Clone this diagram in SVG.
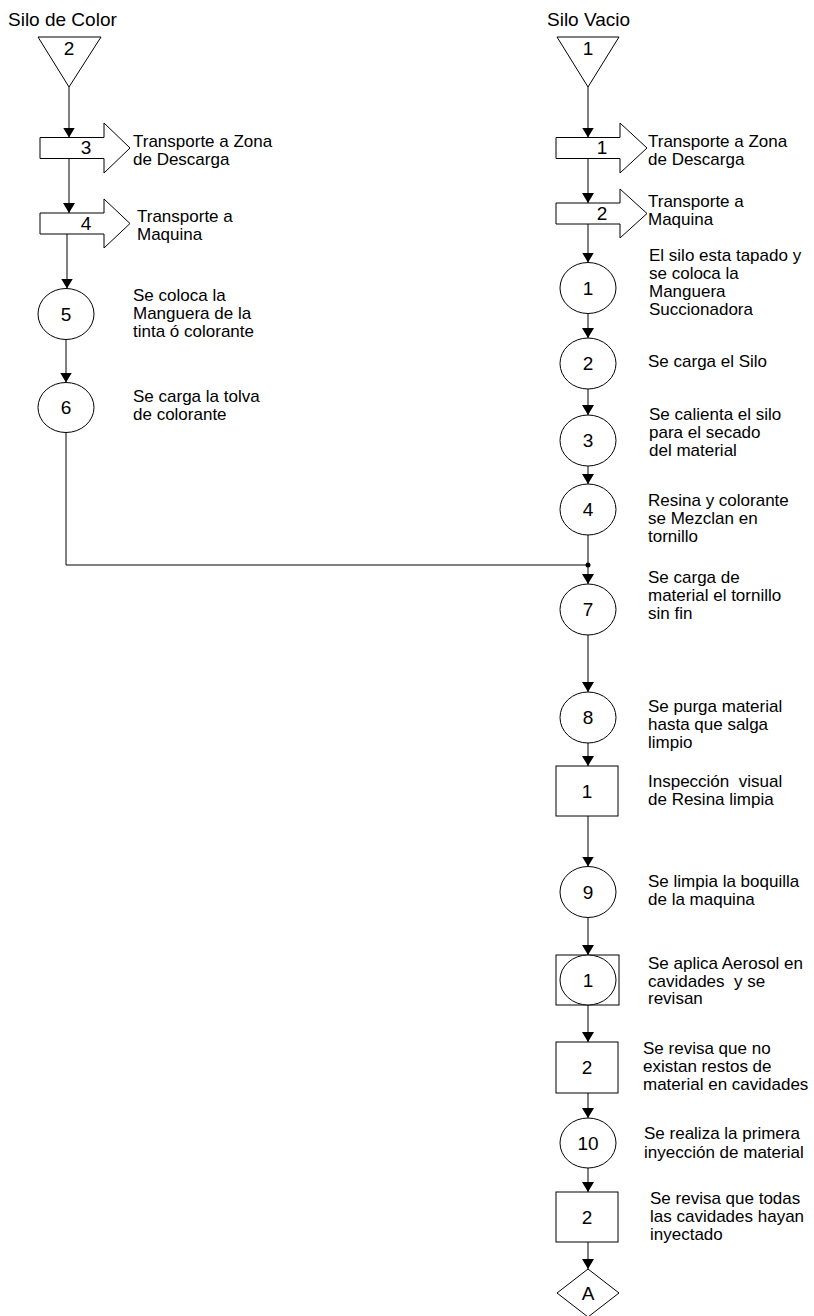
<svg xmlns="http://www.w3.org/2000/svg" width="814" height="1316" viewBox="0 0 814 1316">
<style>
  text { font-family: "Liberation Sans", Arial, sans-serif; fill: #000; }
  .title { font-size: 19px; }
  .desc { font-size: 17px; }
  .num { font-size: 19px; text-anchor: middle; }
  .shape { fill: #fff; stroke: #000; stroke-width: 1; }
  .conn { fill: none; stroke: #000; stroke-width: 1; }
</style>
<defs>
  <marker id="arr" markerUnits="userSpaceOnUse" markerWidth="10" markerHeight="12" refX="10" refY="6" orient="auto">
    <path d="M0,0 L10,6 L0,12 z" fill="#000"/>
  </marker>
</defs>
<rect x="0" y="0" width="814" height="1316" fill="#fff"/>

<g id="connectors">
  <line class="conn" x1="69" y1="87" x2="69" y2="137.5" marker-end="url(#arr)"/>
  <line class="conn" x1="69" y1="158.5" x2="69" y2="213" marker-end="url(#arr)"/>
  <line class="conn" x1="67" y1="234" x2="67" y2="288.5" marker-end="url(#arr)"/>
  <line class="conn" x1="66" y1="339.5" x2="66" y2="382.5" marker-end="url(#arr)"/>
  <polyline class="conn" points="66,432.5 66,565 588,565"/>

  <line class="conn" x1="588" y1="87" x2="588" y2="137.5" marker-end="url(#arr)"/>
  <line class="conn" x1="588" y1="158.5" x2="588" y2="203" marker-end="url(#arr)"/>
  <line class="conn" x1="588" y1="224" x2="588" y2="262.5" marker-end="url(#arr)"/>
  <line class="conn" x1="588" y1="313.5" x2="588" y2="338" marker-end="url(#arr)"/>
  <line class="conn" x1="588" y1="389" x2="588" y2="415" marker-end="url(#arr)"/>
  <line class="conn" x1="588" y1="466" x2="588" y2="484" marker-end="url(#arr)"/>
  <line class="conn" x1="588" y1="535" x2="588" y2="584" marker-end="url(#arr)"/>
  <circle cx="588" cy="565" r="2.5" fill="#000"/>
  <line class="conn" x1="588" y1="635" x2="588" y2="692" marker-end="url(#arr)"/>
  <line class="conn" x1="588" y1="743" x2="588" y2="766" marker-end="url(#arr)"/>
  <line class="conn" x1="588" y1="816" x2="588" y2="866.5" marker-end="url(#arr)"/>
  <line class="conn" x1="588" y1="917.5" x2="588" y2="955" marker-end="url(#arr)"/>
  <line class="conn" x1="588" y1="1005" x2="588" y2="1042" marker-end="url(#arr)"/>
  <line class="conn" x1="588" y1="1093" x2="588" y2="1118" marker-end="url(#arr)"/>
  <line class="conn" x1="588" y1="1168" x2="588" y2="1192" marker-end="url(#arr)"/>
  <line class="conn" x1="588" y1="1242" x2="588" y2="1269" marker-end="url(#arr)"/>
</g>

<!-- Left column -->
<g id="silo-color">
  <text class="title" x="8" y="26">Silo de Color</text>
  <polygon class="shape" points="38,37 101,37 69,87"/>
  <text class="num" x="69" y="55">2</text>
</g>
<g id="transport-3">
  <polygon class="shape" points="40,137.5 104,137.5 104,123 130,148 104,173 104,158.5 40,158.5"/>
  <text class="num" x="86" y="154">3</text>
  <text class="desc" x="133" y="147">Transporte a Zona</text>
  <text class="desc" x="133" y="165">de Descarga</text>
</g>
<g id="transport-4">
  <polygon class="shape" points="40,213 104,213 104,199 130,223.5 104,248 104,234 40,234"/>
  <text class="num" x="86" y="230">4</text>
  <text class="desc" x="137" y="222">Transporte a</text>
  <text class="desc" x="137" y="240">Maquina</text>
</g>
<g id="op-5">
  <ellipse class="shape" cx="66" cy="314" rx="28" ry="25.5"/>
  <text class="num" x="66" y="321">5</text>
  <text class="desc" x="133" y="301">Se coloca la</text>
  <text class="desc" x="133" y="319">Manguera de la</text>
  <text class="desc" x="133" y="337">tinta ó colorante</text>
</g>
<g id="op-6">
  <ellipse class="shape" cx="66" cy="407.5" rx="28" ry="25"/>
  <text class="num" x="66" y="414">6</text>
  <text class="desc" x="133" y="402">Se carga la tolva</text>
  <text class="desc" x="133" y="420">de colorante</text>
</g>

<!-- Right column -->
<g id="silo-vacio">
  <text class="title" x="547" y="26">Silo Vacio</text>
  <polygon class="shape" points="557,37 619,37 588,87"/>
  <text class="num" x="588" y="55">1</text>
</g>
<g id="transport-1">
  <polygon class="shape" points="556,137.5 620,137.5 620,123 647,148 620,173 620,158.5 556,158.5"/>
  <text class="num" x="602" y="154">1</text>
  <text class="desc" x="648" y="147">Transporte a Zona</text>
  <text class="desc" x="648" y="165">de Descarga</text>
</g>
<g id="transport-2">
  <polygon class="shape" points="556,203 620,203 620,189 647,213.5 620,238 620,224 556,224"/>
  <text class="num" x="602" y="220">2</text>
  <text class="desc" x="648" y="207">Transporte a</text>
  <text class="desc" x="648" y="225">Maquina</text>
</g>
<g id="op-1">
  <ellipse class="shape" cx="588" cy="288" rx="28" ry="25.5"/>
  <text class="num" x="588" y="295">1</text>
  <text class="desc" x="649" y="261">El silo esta tapado y</text>
  <text class="desc" x="649" y="279">se coloca la</text>
  <text class="desc" x="649" y="297">Manguera</text>
  <text class="desc" x="649" y="315">Succionadora</text>
</g>
<g id="op-2">
  <ellipse class="shape" cx="588" cy="363.5" rx="28" ry="25.5"/>
  <text class="num" x="588" y="370">2</text>
  <text class="desc" x="648" y="367">Se carga el Silo</text>
</g>
<g id="op-3">
  <ellipse class="shape" cx="588" cy="440.5" rx="28" ry="25.5"/>
  <text class="num" x="588" y="447">3</text>
  <text class="desc" x="649" y="420">Se calienta el silo</text>
  <text class="desc" x="649" y="438">para el secado</text>
  <text class="desc" x="649" y="456">del material</text>
</g>
<g id="op-4">
  <ellipse class="shape" cx="588" cy="509.5" rx="28" ry="25.5"/>
  <text class="num" x="588" y="516">4</text>
  <text class="desc" x="648" y="506">Resina y colorante</text>
  <text class="desc" x="648" y="524">se Mezclan en</text>
  <text class="desc" x="648" y="542">tornillo</text>
</g>
<g id="op-7">
  <ellipse class="shape" cx="588" cy="609.5" rx="28" ry="25.5"/>
  <text class="num" x="588" y="616">7</text>
  <text class="desc" x="648" y="583">Se carga de</text>
  <text class="desc" x="648" y="601">material el tornillo</text>
  <text class="desc" x="648" y="619">sin fin</text>
</g>
<g id="op-8">
  <ellipse class="shape" cx="588" cy="717.5" rx="28" ry="25.5"/>
  <text class="num" x="588" y="724">8</text>
  <text class="desc" x="648" y="712">Se purga material</text>
  <text class="desc" x="648" y="730">hasta que salga</text>
  <text class="desc" x="648" y="748">limpio</text>
</g>
<g id="insp-1">
  <rect class="shape" x="556" y="766" width="62" height="50"/>
  <text class="num" x="587" y="798">1</text>
  <text class="desc" x="648" y="787" xml:space="preserve">Inspección  visual</text>
  <text class="desc" x="648" y="805">de Resina limpia</text>
</g>
<g id="op-9">
  <ellipse class="shape" cx="588" cy="892" rx="28" ry="25.5"/>
  <text class="num" x="588" y="899">9</text>
  <text class="desc" x="648" y="887">Se limpia la boquilla</text>
  <text class="desc" x="648" y="905">de la maquina</text>
</g>
<g id="combined-1">
  <rect class="shape" x="556" y="955" width="63" height="50"/>
  <ellipse class="shape" cx="588" cy="980" rx="28" ry="25"/>
  <text class="num" x="588" y="987">1</text>
  <text class="desc" x="648" y="969">Se aplica Aerosol en</text>
  <text class="desc" x="648" y="987" xml:space="preserve">cavidades  y se</text>
  <text class="desc" x="648" y="1004">revisan</text>
</g>
<g id="insp-2a">
  <rect class="shape" x="556" y="1042" width="62" height="51"/>
  <text class="num" x="587" y="1074">2</text>
  <text class="desc" x="643" y="1054">Se revisa que no</text>
  <text class="desc" x="643" y="1072">existan restos de</text>
  <text class="desc" x="643" y="1090">material en cavidades</text>
</g>
<g id="op-10">
  <ellipse class="shape" cx="588" cy="1143" rx="28" ry="25"/>
  <text class="num" x="588" y="1150">10</text>
  <text class="desc" x="644" y="1139">Se realiza la primera</text>
  <text class="desc" x="644" y="1158">inyección de material</text>
</g>
<g id="insp-2b">
  <rect class="shape" x="556" y="1192" width="62" height="50"/>
  <text class="num" x="587" y="1224">2</text>
  <text class="desc" x="650" y="1204">Se revisa que todas</text>
  <text class="desc" x="650" y="1222">las cavidades hayan</text>
  <text class="desc" x="650" y="1240">inyectado</text>
</g>
<g id="connector-A">
  <polygon class="shape" points="588,1269 619,1293 588,1317 557,1293"/>
  <text class="num" x="588" y="1300">A</text>
</g>
</svg>
